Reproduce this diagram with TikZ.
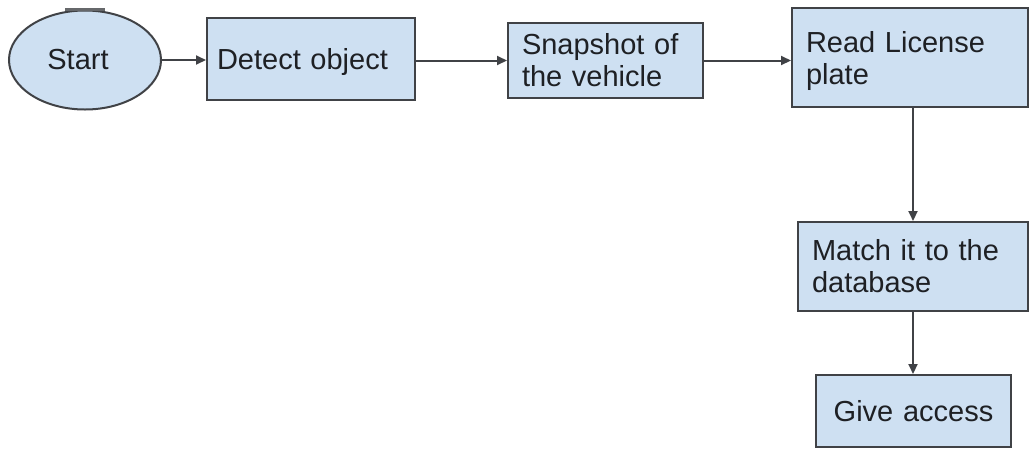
\documentclass[tikz,border=0pt]{standalone}
\usepackage{fontspec}
\setmainfont{Liberation Sans}
\usetikzlibrary{shapes.geometric,arrows.meta}
\definecolor{boxfill}{RGB}{206,224,242}
\definecolor{edge}{RGB}{64,66,70}
\definecolor{ink}{RGB}{30,32,36}
\tikzset{
  box/.style={draw=edge, fill=boxfill, line width=2pt, rectangle,
    inner xsep=14pt, inner ysep=0pt, align=left, text=ink,
    font=\fontsize{29}{32}\selectfont},
  startbox/.style={draw=edge, fill=boxfill, line width=2pt, ellipse,
    inner sep=0pt, text=ink, font=\fontsize{29}{32}\selectfont},
  flow/.style={draw=edge, line width=2pt,
    -{Triangle[length=10pt,width=9pt]}}
}
\begin{document}
\begin{tikzpicture}[x=1pt,y=-1pt]
  \useasboundingbox (0,0) rectangle (1030,448);

  % process steps (descenders ignored when centring the text)
  \node[startbox, minimum width=152pt, minimum height=99pt] (start) at (85,60) {\hspace*{-14pt}Start};
  \node[box, inner xsep=10pt, text width=188pt, text depth=0pt, minimum height=82pt] (detect) at (311,59) {Detect object};
  \node[box, text width=167pt, minimum height=75pt] (snap) at (605.5,60.5) {Snapshot of\\the vehicle};
  \node[box, text width=208pt, text depth=32pt, minimum height=99pt] (read) at (910,57.5) {Read License\\plate};
  \node[box, text width=202pt, minimum height=89pt] (match) at (913,266.5) {Match it to the\\database};
  \node[box, align=center, text width=167pt, minimum height=72pt] (give) at (913.5,411) {Give access};

  % small mark on top of the start ellipse
  \draw[edge!80, line width=3pt] ([xshift=-20pt]start.north) -- ([xshift=20pt]start.north);

  % connectors
  \draw[flow] (start.east) -- (start.east -| detect.west);
  \draw[flow] (detect.east |- snap.west) -- (snap.west);
  \draw[flow] (snap.east) -- (snap.east -| read.west);
  \draw[flow] (read.south -| match.north) -- (match.north);
  \draw[flow] (match.south) -- (match.south |- give.north);
\end{tikzpicture}
\end{document}
